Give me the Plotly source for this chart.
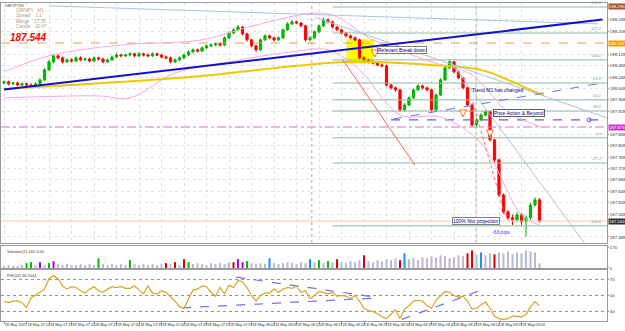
import plotly.graph_objects as go
from plotly.subplots import make_subplots

# ---------------- data ----------------
idx = list(range(120))
opens = [188.027,188.031,188.024,188.027,188.020,188.024,188.020,188.017,188.024,188.038,
         188.073,188.101,188.122,188.115,188.101,188.108,188.104,188.115,188.108,188.111,
         188.104,188.115,188.111,188.101,188.108,188.118,188.125,188.122,188.125,188.129,
         188.122,188.129,188.125,188.122,188.129,188.125,188.118,188.115,188.101,188.108,
         188.115,188.125,188.136,188.143,188.139,188.150,188.157,188.160,188.164,188.160,
         188.185,188.202,188.213,188.223,188.199,188.178,188.157,188.143,188.178,188.192,
         188.185,188.178,188.185,188.213,188.234,188.241,188.237,188.227,188.178,188.185,
         188.206,188.227,188.248,188.241,188.223,188.213,188.202,188.192,188.185,188.178,
         188.115,188.108,188.101,188.097,188.090,188.087,188.020,188.010,188.003,187.933,
         187.950,187.975,188.003,188.017,188.010,188.003,187.933,187.985,188.038,188.080,
         188.101,188.066,188.045,188.010,187.950,187.880,187.898,187.915,187.926,187.828,
         187.758,187.635,187.576,187.555,187.548,187.565,187.541,187.555,187.600,187.618]
highs = [188.036,188.035,188.031,188.032,188.029,188.028,188.026,188.030,188.043,188.079,
         188.108,188.129,188.127,188.119,188.113,188.113,188.119,188.120,188.116,188.115,
         188.120,188.119,188.115,188.113,188.123,188.131,188.129,188.130,188.134,188.133,
         188.135,188.133,188.130,188.134,188.133,188.129,188.123,188.119,188.113,188.120,
         188.130,188.141,188.148,188.147,188.155,188.162,188.166,188.169,188.168,188.190,
         188.208,188.219,188.230,188.227,188.203,188.182,188.161,188.183,188.197,188.196,
         188.189,188.190,188.218,188.240,188.247,188.245,188.241,188.231,188.190,188.211,
         188.232,188.256,188.252,188.245,188.227,188.217,188.206,188.196,188.190,188.182,
         188.120,188.112,188.106,188.101,188.095,188.091,188.025,188.015,188.007,187.956,
         187.980,188.008,188.022,188.021,188.014,188.007,187.990,188.043,188.085,188.110,
         188.105,188.070,188.049,188.014,187.955,187.904,187.921,187.931,187.930,187.832,
         187.762,187.640,187.582,187.566,187.575,187.572,187.563,187.608,187.628,187.624]
lows = [188.022,188.019,188.020,188.015,188.016,188.013,188.012,188.012,188.020,188.034,
        188.069,188.096,188.109,188.095,188.097,188.099,188.100,188.104,188.103,188.099,
        188.100,188.106,188.096,188.097,188.104,188.114,188.117,188.118,188.120,188.117,
        188.118,188.120,188.117,188.118,188.121,188.113,188.110,188.096,188.097,188.104,
        188.111,188.121,188.131,188.134,188.135,188.146,188.152,188.155,188.155,188.156,
        188.181,188.198,188.208,188.194,188.173,188.152,188.136,188.139,188.174,188.180,
        188.172,188.174,188.181,188.209,188.230,188.232,188.222,188.172,188.173,188.181,
        188.202,188.223,188.236,188.218,188.208,188.197,188.187,188.180,188.173,188.110,
        188.103,188.096,188.092,188.085,188.082,188.014,188.004,187.997,187.926,187.928,
        187.946,187.971,187.999,188.005,187.998,187.926,187.929,187.981,188.034,188.076,
        188.061,188.040,188.005,187.944,187.873,187.874,187.893,187.910,187.822,187.750,
        187.628,187.569,187.548,187.530,187.540,187.530,187.490,187.548,187.595,187.538]
closes = [188.031,188.024,188.027,188.020,188.024,188.020,188.017,188.024,188.038,188.073,
          188.101,188.122,188.115,188.101,188.108,188.104,188.115,188.108,188.111,188.104,
          188.115,188.111,188.101,188.108,188.118,188.125,188.122,188.125,188.129,188.122,
          188.129,188.125,188.122,188.129,188.125,188.118,188.115,188.101,188.108,188.115,
          188.125,188.136,188.143,188.139,188.150,188.157,188.160,188.164,188.160,188.185,
          188.202,188.213,188.223,188.199,188.178,188.157,188.143,188.178,188.192,188.185,
          188.178,188.185,188.213,188.234,188.241,188.237,188.227,188.178,188.185,188.206,
          188.227,188.248,188.241,188.223,188.213,188.202,188.192,188.185,188.178,188.115,
          188.108,188.101,188.097,188.090,188.087,188.020,188.010,188.003,187.933,187.950,
          187.975,188.003,188.017,188.010,188.003,187.933,187.985,188.038,188.080,188.101,
          188.066,188.045,188.010,187.950,187.880,187.898,187.915,187.926,187.828,187.758,
          187.635,187.576,187.555,187.548,187.565,187.541,187.555,187.600,187.618,187.544]

volumes = [16,24,16,16,24,40,48,24,48,24, 40,56,32,24,32,24,24,32,24,32,
           24,80,32,24,32,24,32,24,64,32, 24,32,24,32,24,32,40,32,48,24,
           72,48,32,40,32,24,40,32,40,32, 48,48,72,48,56,40,32,40,32,80,
           40,32,40,48,40,32,48,40,72,48, 64,40,56,48,72,48,40,56,48,64,
           104,56,48,64,56,72,64,80,64,120, 72,80,64,88,80,96,88,104,96,80,
           88,104,96,120,144,112,128,104,120,112, 128,120,136,112,128,120,144,136,128,40]
vol_type = ("nnnnnggnpn" "gpnnnnnnnn" "ngnnnnnngn" "nnnnnnrnrn" "rgnnnnnnnn" "nrppgnnnnb"
            "nnnnnnnnbn" "gngnrnnnnn" "rnnnnnnnrb" "nnnnnnnnnn" "nnnrrnbnnr" "nnnnnnnnnn")

rsi = [42.5,41,43,43.5,41,35,47,50,54,58, 71,75,71,62,58,61,60,56,53,58,
       61,56,54,58,61,60,61,59,59,62, 57,52,62,53,52,56,54,49,43,36,
       34,46,57,58,62,61,54,49,60,52, 63,60,69,67,60,50,43,50,53,53,
       58,54,58,60,59,62,54,56,46,50, 55,54,52,54,49,50,49,46,50,43,
       34,31,30,27,23,21,27,32,21,33, 37,43,44,43,37,34,44,50,55,54,
       50,48,49,43,33,34,38,42,34,24, 21,20,21,24,24,23,26,36,42,37]
rsi_levels = [30, 50, 70]
rsi_ticks = [30, 50, 70]
rsi_trend = [[51.6, 73, 81.8, 48.5], [39.6, 34.5, 81.8, 46.5], [88.4, 20, 106.2, 57]]

tick_idx = list(range(0, 120, 5))
tick_labels = ["28 May 2025", "28 May 07:14", "28 May 07:19", "28 May 07:24", "28 May 07:29",
               "28 May 07:34", "28 May 07:39", "28 May 07:44", "28 May 07:49", "28 May 07:54",
               "28 May 07:59", "28 May 08:04", "28 May 08:09", "28 May 08:14", "28 May 08:19",
               "28 May 08:24", "28 May 08:29", "28 May 08:34", "28 May 08:39", "28 May 08:44",
               "28 May 08:49", "28 May 08:54", "28 May 08:59", "28 May 09:04"]
price_ticks = [187.488, 187.568, 187.608, 187.648, 187.688, 187.728, 187.768, 187.808, 187.848,
               187.928, 187.968, 188.008, 188.048, 188.088, 188.128, 188.208, 188.248]
vol_ticks = [0, 170]

# indicator / drawing objects (candle index, price)
bb_upper_x = [0, 10, 26, 44, 57, 72, 82, 95, 104, 112, 120]
bb_upper_y = [188.066, 188.122, 188.160, 188.178, 188.234, 188.269, 188.178, 188.101, 188.055, 187.926, 187.870]
bb_lower_x = [0, 21, 28, 38, 50, 64, 72, 79, 88, 97, 106, 115, 119]
bb_lower_y = [187.975, 187.982, 187.975, 188.062, 188.101, 188.136, 188.143, 188.073, 187.915, 187.908, 187.817, 187.565, 187.530]
ma_x = [0, 39, 77, 95, 106, 112, 118, 120]
ma_y = [188.006, 188.045, 188.101, 188.090, 188.073, 188.038, 187.996, 187.985]
blue_trend = [0, 188.004, 133, 188.249]
steel_lines = [[10, 188.297, 132, 188.234], [69, 188.258, 134, 187.905], [99, 188.108, 129, 187.467]]
red_line = [75.3, 188.108, 91.3, 187.740]
red_dotted = [104.2, 187.961, 111.3, 187.565]
purple_dash = [86.4, 187.901, 132.9, 188.027]
fib_levels = [188.293, 188.202, 188.108, 188.027, 187.968, 187.929, 187.835, 187.747, 187.527]
fib_names = ["161.8", "127.2", "100.0", "61.8", "50.0", "38.2", "0.0", "-27.2", "-100.0"]
fib_span = [73, 134]
orange_level = 188.167
magenta_level = 187.873
blue_level = [86, 133, 187.898]
blue_level_dot = [130, 187.898]
bid_price = 187.544
high_mark = 188.296
vlines = [68.4, 104.9]
yellow_box = [76.2, 82.0, 188.097, 188.178]
arrows_x = [82.4, 102.0, 108.0]
arrows_y = [188.118, 187.908, 187.838]

XR = [-0.67, 134.0]
YR = [187.467, 188.307]

# ---------------- figure ----------------
fig = make_subplots(rows=3, cols=1, shared_xaxes=True, vertical_spacing=0.01)

def seg(x0, y0, x1, y1, color, width=1, dash='solid', row=1):
    fig.add_trace(go.Scatter(x=[x0, x1], y=[y0, y1], mode='lines',
                             line=dict(color=color, width=width, dash=dash),
                             hoverinfo='skip'), row=row, col=1)

# horizontal objects
seg(XR[0], orange_level, XR[1], orange_level, '#f0a040', 1.2, 'dash')
seg(XR[0], magenta_level, XR[1], magenta_level, '#d070d0', 1, 'dashdot')
seg(XR[0], bid_price, XR[1], bid_price, '#ffc8b0', 1)
for lv in fib_levels:
    seg(fib_span[0], lv, fib_span[1], lv, '#90b8a0', 1)
seg(blue_level[0], blue_level[2], blue_level[1], blue_level[2], '#6060e0', 1.2, 'dash')
fig.add_trace(go.Scatter(x=[blue_level_dot[0]], y=[blue_level_dot[1]], mode='markers',
                         marker=dict(symbol='circle-open', size=4, color='#6060e0'),
                         hoverinfo='skip'), row=1, col=1)
for vx in vlines:
    seg(vx, YR[0], vx, YR[1], '#b0b090', 1, 'dot')

# bands / MA / trend lines
fig.add_trace(go.Scatter(x=bb_upper_x, y=bb_upper_y, mode='lines', line=dict(color='#f4a8e8', width=1, shape='spline'),
                         hoverinfo='skip'), row=1, col=1)
fig.add_trace(go.Scatter(x=bb_lower_x, y=bb_lower_y, mode='lines', line=dict(color='#f4a8e8', width=1, shape='spline'),
                         hoverinfo='skip'), row=1, col=1)
fig.add_trace(go.Scatter(x=ma_x, y=ma_y, mode='lines', line=dict(color='#f0c800', width=2, shape='spline'),
                         hoverinfo='skip'), row=1, col=1)
for s in steel_lines:
    seg(*s, '#a8c4dc', 1)
seg(*blue_trend, '#1010d0', 2)
seg(*purple_dash, '#7070f0', 1, 'dash')
seg(*red_line, '#ff6060', 1)
seg(*red_dotted, '#ff6060', 1, 'dot')

fig.add_trace(go.Scatter(x=arrows_x, y=arrows_y, mode='markers',
                         marker=dict(symbol='arrow-down', size=7, color='white',
                                     line=dict(color='#ff7020', width=1)),
                         hoverinfo='skip'), row=1, col=1)

# candles
fig.add_trace(go.Candlestick(x=idx, open=opens, high=highs, low=lows, close=closes,
                             increasing=dict(line=dict(color='#00b000', width=1), fillcolor='#00c000'),
                             decreasing=dict(line=dict(color='#ff0000', width=1), fillcolor='#ff0000'),
                             whiskerwidth=0, hoverinfo='skip'), row=1, col=1)

# volumes
cmap = {'n': '#b8b8d8', 'g': '#00c000', 'r': '#e00000', 'b': '#1e90ff', 'p': '#b000ff'}
fig.add_trace(go.Bar(x=idx, y=volumes, marker=dict(color=[cmap[c] for c in vol_type], line=dict(width=0)),
                     width=0.45, hoverinfo='skip'), row=2, col=1)

# RSI
for lv in rsi_levels:
    seg(XR[0], lv, XR[1], lv, '#909090', 1, 'dot', row=3)
for t in rsi_trend:
    seg(*t, '#7070f0', 1.2, 'dash', row=3)
fig.add_trace(go.Scatter(x=idx, y=rsi, mode='lines', line=dict(color='#daa520', width=1.2),
                         hoverinfo='skip'), row=3, col=1)

# yellow box
fig.add_shape(type='rect', xref='x', yref='y', x0=yellow_box[0], x1=yellow_box[1],
              y0=yellow_box[2], y1=yellow_box[3], fillcolor='#ffff00',
              line=dict(color='#e0d000', width=0.5), layer='between')

FONT = 'Liberation Sans, Arial, sans-serif'
axline = dict(showline=True, mirror=True, linecolor='#9a9a9a', linewidth=1, zeroline=False, automargin=False)
tfont = dict(size=4.3, color='#303030')

fig.update_layout(
    width=625, height=331, margin=dict(l=1, r=18, t=3, b=10, autoexpand=False),
    paper_bgcolor='white', plot_bgcolor='white', showlegend=False,
    font=dict(family=FONT, size=5, color='#404040'),
    xaxis=dict(domain=[0, 1], range=XR, showgrid=True, gridcolor='#e2e2e2', griddash='dot',
               tickvals=tick_idx, showticklabels=False, ticks='', rangeslider=dict(visible=False), **axline),
    xaxis2=dict(domain=[0, 1], range=XR, showgrid=False, showticklabels=False, ticks='', **axline),
    xaxis3=dict(domain=[0, 1], range=XR, showgrid=False, tickvals=tick_idx, ticktext=tick_labels,
                showticklabels=True, ticks='outside', ticklen=2, tickcolor='#909090', tickangle=0,
                ticklabelposition='outside right', tickfont=dict(size=3.7, color='#303030'), **axline),
    yaxis=dict(domain=[0.2453, 1], range=YR, side='right', tickvals=price_ticks, tickformat='.3f',
               showgrid=True, gridcolor='#e2e2e2', griddash='dot', ticks='outside', ticklen=1,
               tickcolor='#909090', tickfont=tfont, **axline),
    yaxis2=dict(domain=[0.1667, 0.2358], range=[0, 180], side='right', tickvals=vol_ticks,
                showgrid=False, ticks='outside', ticklen=1, tickcolor='#909090', tickfont=tfont, **axline),
    yaxis3=dict(domain=[0, 0.1604], range=[18, 82], side='right', tickvals=rsi_ticks,
                showgrid=False, ticks='outside', ticklen=1, tickcolor='#909090', tickfont=tfont, **axline),
)

ann = []
# info panel (top-left)
ann.append(dict(xref='paper', yref='paper', x=0.003, y=1.004, text='GBPJPY,M1', showarrow=False,
                xanchor='left', yanchor='top', font=dict(size=3.5, color='#505050')))
for txt, yy, col in [('GBPJPY   M1', 0.977, '#c8a070'), ('Spread    1.1', 0.960, '#b0a080'),
                     ('Range    17.78', 0.943, '#b0a080'), ('Candle    00:47', 0.926, '#b0a080')]:
    ann.append(dict(xref='paper', yref='paper', x=0.022, y=yy, text=txt, showarrow=False,
                    xanchor='left', yanchor='middle', font=dict(size=4.5, color=col)))
ann.append(dict(xref='paper', yref='paper', x=0.012, y=0.915, text='<b><i>187.544</i></b>', showarrow=False,
                xanchor='left', yanchor='top', font=dict(size=10, color='#ff0000', family=FONT)))
# chart labels
ann.append(dict(xref='x', yref='y', x=82.9, y=188.142, text='Relevant Break down', showarrow=False,
                xanchor='left', yanchor='middle', font=dict(size=5, color='#000080'),
                bordercolor='#808080', borderwidth=1, borderpad=0, bgcolor='white'))
ann.append(dict(xref='x', yref='y', x=103.6, y=188.003, text='Trend M1 has changed', showarrow=False,
                xanchor='left', yanchor='middle', font=dict(size=5, color='#000080')))
ann.append(dict(xref='x', yref='y', x=108.7, y=187.922, text='Price Action &amp; Beyond', showarrow=False,
                xanchor='left', yanchor='middle', font=dict(size=5, color='#000080'),
                bordercolor='#606060', borderwidth=1, borderpad=0, bgcolor='white'))
ann.append(dict(xref='x', yref='y', x=99.5, y=187.544, text='100% fibo projection', showarrow=False,
                xanchor='left', yanchor='middle', font=dict(size=5, color='#000080'),
                bordercolor='#808080', borderwidth=1, borderpad=0, bgcolor='white'))
ann.append(dict(xref='x', yref='y', x=108.0, y=187.505, text='-63 pips', showarrow=False,
                xanchor='left', yanchor='middle', font=dict(size=5, color='#4040ff')))
for lv, nm in zip(fib_levels, fib_names):
    ann.append(dict(xref='paper', yref='y', x=0.995, y=lv, text=nm, showarrow=False,
                    xanchor='right', yanchor='bottom', font=dict(size=4, color='#70a080')))
# panel headers
ann.append(dict(xref='paper', yref='paper', x=0.006, y=0.232, text='Volumes(1) 140 0.00', showarrow=False,
                xanchor='left', yanchor='top', font=dict(size=4, color='#404040')))
ann.append(dict(xref='paper', yref='paper', x=0.006, y=0.157, text='RSI(14) 36.5044', showarrow=False,
                xanchor='left', yanchor='top', font=dict(size=4, color='#404040')))
# right-axis price boxes
for price, bg in [(high_mark, '#a0522d'), (orange_level, '#ff9900'), (magenta_level, '#cc33cc'), (bid_price, '#303030')]:
    ann.append(dict(xref='paper', yref='y', x=1.001, y=price, text='%.3f' % price, showarrow=False,
                    xanchor='left', yanchor='middle', font=dict(size=4.3, color='white'),
                    bgcolor=bg, borderpad=0))
fig.update_layout(annotations=ann)

fig.write_html('out.html')
